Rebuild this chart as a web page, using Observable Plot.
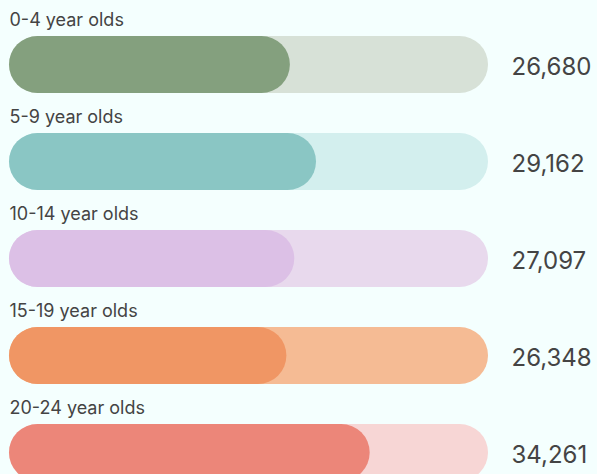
<!DOCTYPE html>
<html>
<head>
<meta charset="utf-8">
<script src="https://cdn.jsdelivr.net/npm/d3@7"></script>
<script src="https://cdn.jsdelivr.net/npm/@observablehq/plot@0.6"></script>
<style>
  html, body { margin: 0; padding: 0; background: #f4fffe; overflow: hidden; }
  #chart svg { display: block; }
</style>
</head>
<body>
<div id="chart"></div>
<script>
const categories = ["0-4 year olds", "5-9 year olds", "10-14 year olds", "15-19 year olds", "20-24 year olds"];
const values = [26680, 29162, 27097, 26348, 34261];
const trackMax = 45500;
const fillColors = ["#84a07e", "#8ac6c4", "#dcc0e6", "#f09664", "#ec8679"];
const trackColors = ["#d7e1d7", "#d3efee", "#e8d9ed", "#f5bb94", "#f7d6d5"];

const data = categories.map((c, i) => ({
  category: c, value: values[i], track: trackMax,
  fill: fillColors[i], trackFill: trackColors[i]
}));

const fmt = d3.format(",");
const font = "Inter, 'Noto Sans', sans-serif";

const chart = Plot.plot({
  width: 597,
  height: 474,
  marginTop: 0, marginBottom: 0, marginLeft: 0, marginRight: 0,
  style: { background: "#f4fffe", fontFamily: font, overflow: "visible" },
  x: { domain: [0, trackMax], range: [9, 488], axis: null },
  y: { domain: categories, range: [35, 481.6], paddingInner: 0.4148, paddingOuter: 0, axis: null },
  color: { type: "identity" },
  marks: [
    Plot.barX(data, { y: "category", x1: 0, x2: "track", fill: "trackFill", rx: 28.5 }),
    Plot.barX(data, { y: "category", x1: 0, x2: "value", fill: "fill", rx: 28.5 }),
    Plot.text(data, { y: "category", x: 0, text: "category", textAnchor: "start", dy: -44.5,
      fontSize: 18, fill: "#444444", fontFamily: font }),
    Plot.text(data, { y: "category", x: "track", text: d => fmt(d.value), textAnchor: "start",
      dx: 23, dy: 2, fontSize: 24, fill: "#444444", fontFamily: font })
  ]
});
document.getElementById("chart").appendChild(chart);
</script>
</body>
</html>
